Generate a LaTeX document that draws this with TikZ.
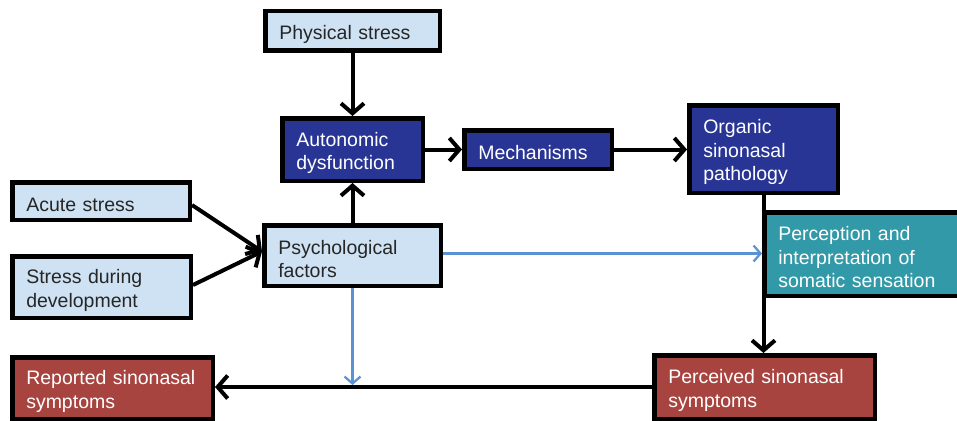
\documentclass[tikz,border=0pt]{standalone}
\usepackage{fontspec}
\setmainfont{Liberation Sans}
\usetikzlibrary{arrows.meta}
\definecolor{lightbox}{RGB}{207,226,243}
\definecolor{darkbox}{RGB}{41,53,148}
\definecolor{tealbox}{RGB}{49,153,168}
\definecolor{redbox}{RGB}{168,68,64}
\definecolor{darktext}{RGB}{38,38,38}
\definecolor{bluearrow}{RGB}{92,146,212}
\tikzset{
  box/.style={draw=black, line width=4.5pt, rectangle, inner xsep=14pt, inner ysep=0pt,
    align=left, font=\fontsize{19.5}{23.5}\selectfont,
    execute at begin node={\rule{0pt}{21pt}}},
  lightnode/.style={box, fill=lightbox, text=darktext},
  darknode/.style={box, fill=darkbox, text=white},
  tealnode/.style={box, fill=tealbox, text=white},
  rednode/.style={box, fill=redbox, text=white},
  arr/.style={line width=4pt, draw=black, -{Straight Barb[length=10pt,width=23pt,line width=4pt]}},
  bluearr/.style={line width=2.2pt, draw=bluearrow, -{Straight Barb[length=7pt,width=16pt,line width=2.2pt]}}
}
\begin{document}
\begin{tikzpicture}[x=1pt,y=-1pt]
\useasboundingbox (0,0) rectangle (957,420);
\fill[white] (0,0) rectangle (957,420);

\node[lightnode, minimum width=174.5pt, text width=146.5pt, minimum height=39.5pt] (phys) at (352.5,31) {Physical stress};
\node[darknode, minimum width=140.5pt, text width=112.5pt, minimum height=62.5pt] (auto) at (352.5,149.5) {Autonomic\\dysfunction};
\node[darknode, minimum width=147.5pt, text width=119.5pt, minimum height=38.5pt] (mech) at (538,149.5) {Mechanisms};
\node[darknode, minimum width=148.5pt, text width=120.5pt, minimum height=87.5pt] (org) at (763.5,149) {Organic\\sinonasal\\pathology};
\node[tealnode, minimum width=208.5pt, text width=180.5pt, minimum height=83.5pt] (perc) at (868.5,254) {Perception and\\interpretation of\\somatic sensation};
\node[lightnode, minimum width=177.5pt, text width=149.5pt, minimum height=37.5pt] (acute) at (101,201) {Acute stress};
\node[lightnode, minimum width=178.5pt, text width=150.5pt, minimum height=61.5pt] (dev) at (101.5,287) {Stress during\\development};
\node[lightnode, minimum width=176.5pt, text width=148.5pt, minimum height=60.5pt] (psych) at (352.5,255.5) {Psychological\\factors};
\node[rednode, minimum width=200.5pt, text width=172.5pt, minimum height=61.5pt] (rep) at (112.5,388) {Reported sinonasal\\symptoms};
\node[rednode, minimum width=220.5pt, text width=192.5pt, minimum height=63.5pt] (perd) at (764.5,387) {Perceived sinonasal\\symptoms};

\coordinate (jn) at (psych.south |- perd.west);

\draw[arr] (phys.south) -- (auto.north);
\draw[arr] (psych.north) -- (auto.south);
\draw[arr] (auto.east) -- (mech.west);
\draw[arr] (mech.east) -- (mech.east -| org.west);
\draw[arr] ([yshift=-4pt]acute.east) -- ([yshift=4pt]psych.west);
\draw[arr] ([yshift=2pt]dev.east) -- ([yshift=4pt]psych.west);
\draw[arr] (org.south) -- (org.south |- perd.north);
\draw[arr] (perd.west) -- (perd.west -| rep.east);
\draw[bluearr] ([yshift=2pt]psych.east) -- ([yshift=2pt]psych.east -| perc.west);
\draw[bluearr, shorten >=2pt] (psych.south) -- (jn);
\end{tikzpicture}
\end{document}
